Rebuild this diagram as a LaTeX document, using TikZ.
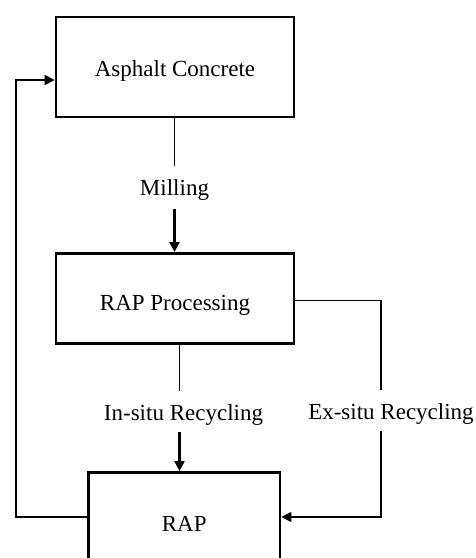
\documentclass[tikz,border=0pt]{standalone}
\usepackage{fontspec}
\setmainfont{Liberation Serif}
\usetikzlibrary{arrows.meta,calc}
\newcommand\lowertext[2]{\raisebox{-#1}[\height][\depth]{#2}}
\begin{document}
\begin{tikzpicture}[x=1pt,y=-1pt,
  box/.style={draw,line width=2.9pt,minimum width=238pt,inner sep=0pt,font=\fontsize{23}{27}\selectfont},
  lbl/.style={inner sep=0pt,minimum height=40pt,font=\fontsize{23}{27}\selectfont},
  thin/.style={line width=1.5pt},
  thickarr/.style={line width=2.3pt,-{Triangle[length=10pt,width=10pt]}},
  thinarr/.style={line width=1.5pt,-{Triangle[length=10pt,width=10pt]}}]
\useasboundingbox (0,0) rectangle (476,558);
\clip (0,0) rectangle (476,558);
\node[box,minimum height=100pt] (ac) at (175,67) {\lowertext{4pt}{Asphalt Concrete}};
\node[box,minimum height=90pt] (proc) at (175,298.5) {\lowertext{7pt}{RAP Processing}};
\node[box,minimum width=191.5pt,minimum height=102pt] (rap) at (184.2,523.5) {RAP};
\node[lbl,minimum height=43pt] (mill) at (174.5,187.5) {\lowertext{2pt}{Milling}};
\node[lbl] (insitu) at (183.5,411.5) {\lowertext{3pt}{In-situ Recycling}};
\node[lbl] (exsitu) at (391,410.5) {\lowertext{3pt}{Ex-situ Recycling}};
\coordinate (fb) at (16,80);
\draw[thin] (mill.north |- ac.south) -- (mill.north);
\draw[thickarr] (mill.south) -- (mill.south |- proc.north);
\draw[thin] ([xshift=-4pt]insitu.north |- proc.south) -- ([xshift=-4pt]insitu.north);
\draw[thickarr] ([xshift=-4pt]insitu.south) -- ([xshift=-4pt]insitu.south |- rap.north);
\draw[thin] ([yshift=-2pt]proc.east) -| ([xshift=-10pt]exsitu.north);
\draw[thinarr] ([xshift=-10pt]exsitu.south) |- ([yshift=6.5pt]rap.east);
\draw[thinarr] ([yshift=6.5pt]rap.west) -| (fb) -- (fb -| ac.west);
\end{tikzpicture}
\end{document}
